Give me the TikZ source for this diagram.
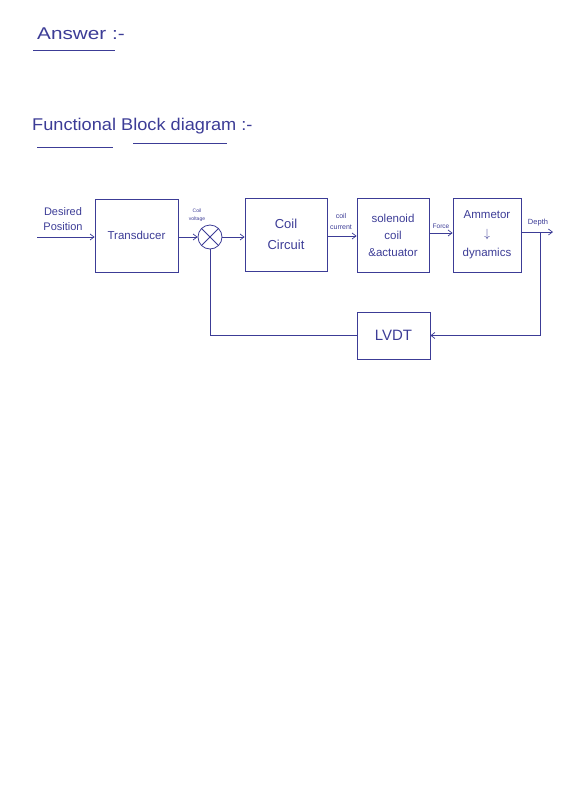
\documentclass[tikz,border=0pt]{standalone}
\usepackage{fontspec}
\setmainfont{Liberation Sans}
\usetikzlibrary{arrows.meta}
\definecolor{ink}{RGB}{60,60,150}
\tikzset{
  blk/.style={draw=ink, line width=0.8pt, text=ink, align=center, inner sep=1pt},
  lbl/.style={text=ink, inner sep=0pt, align=center},
  conn/.style={draw=ink, line width=0.7pt},
  arr/.style={conn, -{Straight Barb[length=4pt,width=6pt]}},
  uline/.style={draw=ink, line width=0.8pt}
}
\begin{document}
\begin{tikzpicture}[x=1pt,y=-1pt]
\useasboundingbox (0,0) rectangle (560,793);
% titles
\node[lbl, font=\fontsize{17}{19}\selectfont, anchor=west] (ans) at (37,34) {\scalebox{1.22}[1]{Answer :-}};
\coordinate (u1a) at (33,50); \coordinate (u1b) at (115,50);
\draw[uline] (u1a) -- (u1b);
\node[lbl, font=\fontsize{17}{19}\selectfont, anchor=west] (fbd) at (32,126) {\scalebox{1.07}[1]{Functional Block diagram :-}};
\coordinate (u2a) at (37,147); \coordinate (u2b) at (113,147);
\coordinate (u3a) at (133,143); \coordinate (u3b) at (227,143);
\draw[uline] (u2a) -- (u2b);
\draw[uline] (u3a) -- (u3b);
% blocks
\node[blk, minimum width=83pt, minimum height=73pt, font=\fontsize{11.5}{13}\selectfont] (tr) at (136.5,235.5) {Transducer};
\node[draw=ink, line width=0.8pt, circle, minimum size=24pt, inner sep=0pt,
  path picture={\draw[ink, line width=0.8pt] (path picture bounding box.north west) -- (path picture bounding box.south east) (path picture bounding box.north east) -- (path picture bounding box.south west);}] (sum) at (210,237) {};
\node[blk, minimum width=82pt, minimum height=73pt, font=\fontsize{13}{21}\selectfont] (cc) at (286,234.5) {Coil\\Circuit};
\node[blk, minimum width=72pt, minimum height=74pt, font=\fontsize{11.5}{17}\selectfont] (sol) at (393,235) {solenoid\\coil\\\&actuator};
\node[blk, minimum width=68pt, minimum height=74pt, font=\fontsize{11.5}{19}\selectfont] (am) at (487,235) {Ammetor\\$\downarrow$\\dynamics};
\node[blk, minimum width=73pt, minimum height=47pt, font=\fontsize{15}{17}\selectfont] (lv) at (393.5,335.5) {LVDT};
% labels
\node[lbl, font=\fontsize{11}{15}\selectfont] (dp) at (63,219) {Desired\\Position};
\node[lbl, font=\fontsize{5}{8}\selectfont] (cv) at (197,215) {Coil\\voltage};
\node[lbl, font=\fontsize{7}{11}\selectfont] (ccur) at (341,221) {coil\\current};
\node[lbl, font=\fontsize{6.5}{8}\selectfont] (fo) at (441,226) {Force};
\node[lbl, font=\fontsize{7.5}{9}\selectfont] (de) at (538,223) {Depth};
% connectors
\coordinate (in) at (37,237);
\coordinate (out) at (553,232);
\coordinate (tap) at (540,232);
\draw[arr] (in) -- (tr.west |- in);
\draw[arr] (tr.east |- sum) -- (sum.west);
\draw[arr] (sum.east) -- (cc.west |- sum);
\draw[arr] (cc.east |- 0,236) -- (sol.west |- 0,236);
\draw[arr] (sol.east |- 0,233) -- (am.west |- 0,233);
\draw[arr] (am.east |- out) -- (out);
\draw[arr] (tap) |- (lv.east);
\draw[conn] (lv.west) -| (sum.south);
\end{tikzpicture}
\end{document}
